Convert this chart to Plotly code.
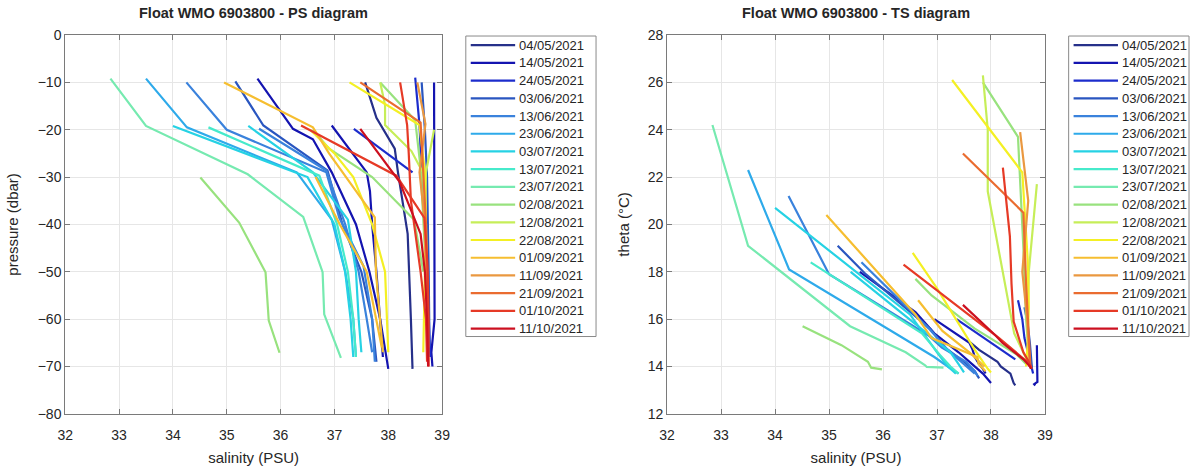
import plotly.graph_objects as go

# ---------------- data ----------------
DATES = ["04/05/2021", "14/05/2021", "24/05/2021", "03/06/2021", "13/06/2021",
         "23/06/2021", "03/07/2021", "13/07/2021", "23/07/2021", "02/08/2021",
         "12/08/2021", "22/08/2021", "01/09/2021", "11/09/2021", "21/09/2021",
         "01/10/2021", "11/10/2021"]

DATE_COLORS = ["#26308a", "#1414b0", "#1c2ccc", "#2a56c0", "#3a82dc", "#2eaaea",
               "#26d2e4", "#46eacb", "#76eab0", "#98e27e", "#c6ee58", "#f4f024",
               "#f6be30", "#ea9840", "#ea6c30", "#e63a26", "#cc1020"]

# each profile: date index, pressure (dbar), salinity (PSU), potential temperature (deg C)
PROF_DATE = [0, 1, 1, 1, 2, 2, 3, 3, 4, 4, 5, 6, 6, 7, 8, 9, 9, 9,
             10, 10, 11, 11, 12, 12, 13, 14, 15, 15, 16]

PROF_PRES = [
    [-10, -17.5, -24, -29, -42, -50, -60, -70.5],
    [-10, -20, -30, -40, -50, -60, -67, -70],
    [-9.2, -19.8, -22, -29, -40, -50, -60, -70.5],
    [-19.1, -29, -33, -40, -50, -60, -68],
    [-9, -19, -29, -40, -50, -60, -68],
    [-19.8, -29],
    [-9.8, -19.1, -28.6, -40, -50, -60, -69],
    [-10, -20, -30, -40, -50, -60, -66],
    [-10, -20, -29, -38.6, -48.8, -60, -69],
    [-19.8, -28.6, -40, -50, -60, -67],
    [-9.2, -19.5, -29, -39, -50, -60, -68],
    [-19.2, -30, -40, -50, -60, -68],
    [-19.2, -29, -39, -50, -60, -67],
    [-19.5, -29.7, -40, -50, -60, -68],
    [-9.2, -19.2, -29.4, -38.4, -50.1, -59, -68.2],
    [-30.1, -39.6, -50.1, -60.3, -67.1],
    [-10, -18, -28, -40, -50],
    [-20, -24, -30, -39, -50],
    [-10, -14.8, -19, -24.5, -29, -40, -50, -60],
    [-20, -29, -40, -50],
    [-10, -19, -29, -40, -50, -60, -67],
    [-20, -25, -30, -40, -50, -60, -67],
    [-10, -19.5, -25, -38.5, -50, -60, -67],
    [-30, -40, -50, -66],
    [-10, -18.8, -29, -38.6, -50, -60, -67],
    [-10, -18.5, -29, -40, -50, -60, -68],
    [-10, -19, -25, -35, -50, -60, -69],
    [-19.1, -29.7, -38.6, -48.8, -60, -70],
    [-19.8, -29, -31, -42, -50, -60, -70],
]

PROF_SAL = [
    [37.57, 37.78, 38.12, 38.18, 38.36, 38.39, 38.42, 38.45],
    [38.85, 38.85, 38.86, 38.86, 38.86, 38.86, 38.80, 38.82],
    [35.57, 36.23, 36.60, 36.95, 37.40, 37.65, 37.85, 38.00],
    [36.95, 37.60, 37.66, 37.70, 37.78, 37.85, 37.90],
    [38.50, 38.58, 38.62, 38.68, 38.72, 38.75, 38.78],
    [37.36, 38.45],
    [35.16, 35.68, 36.87, 37.15, 37.50, 37.70, 37.78],
    [38.62, 38.68, 38.72, 38.74, 38.75, 38.76, 38.76],
    [34.25, 35.00, 36.85, 37.09, 37.54, 37.70, 37.75],
    [35.60, 36.85, 37.20, 37.45, 37.60, 37.70],
    [33.50, 34.26, 36.30, 36.95, 37.20, 37.35, 37.40],
    [34.00, 36.50, 37.00, 37.20, 37.30, 37.35],
    [35.40, 36.60, 37.25, 37.40, 37.45, 37.50],
    [34.66, 36.72, 37.05, 37.25, 37.35, 37.40],
    [32.84, 33.50, 35.39, 36.42, 36.78, 36.81, 37.12],
    [34.51, 35.23, 35.72, 35.78, 35.98],
    [37.85, 38.50, 38.60, 38.65, 38.70],
    [36.60, 36.90, 37.70, 38.48, 38.65],
    [37.85, 37.94, 37.94, 38.43, 38.64, 38.70, 38.72, 38.72],
    [38.85, 38.70, 38.68, 38.70],
    [37.28, 38.58, 38.68, 38.70, 38.68, 38.66, 38.65],
    [36.55, 37.00, 37.35, 37.70, 37.94, 37.98, 38.00],
    [34.95, 36.60, 36.90, 37.75, 37.77, 37.85, 37.90],
    [36.65, 37.10, 37.60, 37.88],
    [38.54, 38.69, 38.58, 38.67, 38.70, 38.72, 38.72],
    [37.48, 38.60, 38.65, 38.70, 38.72, 38.73, 38.73],
    [38.22, 38.35, 38.38, 38.42, 38.60, 38.70, 38.72],
    [36.38, 38.15, 38.67, 38.73, 38.75, 38.75],
    [37.48, 38.09, 38.21, 38.60, 38.68, 38.72, 38.74],
]

PROF_THETA = [
    [15.1, 14.7, 14.2, 14.0, 13.7, 13.5, 13.3, 13.2],
    [14.9, 14.4, 14.0, 13.7, 13.5, 13.35, 13.25, 13.2],
    [18.0, 16.9, 16.3, 15.4, 14.6, 14.1, 13.7, 13.3],
    [16.0, 15.0, 14.7, 14.4, 14.1, 13.9, 13.7],
    [16.8, 16.0, 15.2, 14.6, 14.2, 13.9, 13.7],
    [16.0, 14.3],
    [19.1, 17.9, 15.6, 14.8, 14.2, 13.8, 13.5],
    [16.5, 15.8, 15.0, 14.5, 14.2, 14.0, 13.9],
    [21.2, 17.9, 15.3, 14.8, 14.2, 13.8, 13.6],
    [18.4, 15.6, 14.7, 14.2, 13.9, 13.7],
    [22.3, 18.1, 15.3, 14.4, 14.0, 13.8, 13.7],
    [20.7, 16.2, 14.6, 14.0, 13.8, 13.7],
    [18.0, 15.8, 14.6, 14.1, 13.9, 13.75],
    [18.4, 15.4, 14.5, 14.0, 13.8, 13.7],
    [24.2, 19.1, 15.7, 14.6, 14.05, 13.98, 13.95],
    [15.7, 14.9, 14.2, 13.95, 13.88],
    [26.0, 23.7, 19.0, 16.0, 14.5],
    [17.7, 17.0, 15.6, 14.5, 14.1],
    [26.3, 24.0, 21.4, 15.4, 14.4, 14.2, 14.1, 14.0],
    [21.7, 18.0, 15.5, 14.3],
    [26.1, 22.2, 18.5, 16.5, 15.0, 14.3, 14.0],
    [18.8, 17.3, 16.0, 14.7, 13.9, 13.8, 13.75],
    [20.4, 16.2, 15.2, 14.4, 14.1, 13.9, 13.8],
    [16.8, 15.5, 14.6, 14.0],
    [23.9, 21.0, 18.0, 16.0, 14.8, 14.3, 14.0],
    [23.0, 20.5, 17.5, 15.5, 14.6, 14.2, 14.0],
    [22.4, 19.5, 17.5, 15.9, 14.6, 14.2, 14.0],
    [18.3, 15.2, 14.2, 14.05, 13.95, 13.9],
    [16.6, 15.3, 15.0, 14.3, 14.1, 14.0, 13.9],
]

SAL_TICKS = [32, 33, 34, 35, 36, 37, 38, 39]
PRES_TICKS = [-80, -70, -60, -50, -40, -30, -20, -10, 0]
THETA_TICKS = [12, 14, 16, 18, 20, 22, 24, 26, 28]

# ---------------- figure ----------------
W, H = 1199, 474
FONT = "Liberation Sans, Arial, sans-serif"
TXT = "#262626"

fig = go.Figure()
for k, d in enumerate(PROF_DATE):
    col = DATE_COLORS[d]
    fig.add_trace(go.Scatter(
        x=PROF_SAL[k], y=PROF_PRES[k], mode="lines", name=DATES[d],
        line=dict(color=col, width=2.2), xaxis="x", yaxis="y",
        showlegend=False, hoverinfo="skip"))
    fig.add_trace(go.Scatter(
        x=PROF_SAL[k], y=PROF_THETA[k], mode="lines", name=DATES[d],
        line=dict(color=col, width=2.2), xaxis="x2", yaxis="y2",
        showlegend=False, hoverinfo="skip"))


def px_x(p):
    return p / W


def px_y(p):
    return 1 - p / H


axis_common = dict(
    showgrid=True, gridcolor="#e6e6e6", gridwidth=1,
    showline=True, linecolor="#7a7a7a", linewidth=1, mirror="ticks",
    ticks="inside", ticklen=5, tickcolor="#7a7a7a",
    zeroline=False, tickfont=dict(family=FONT, size=14, color=TXT),
    title_font=dict(family=FONT, size=15, color=TXT),
)

ydom = [px_y(420), px_y(28)]
fig.update_layout(
    width=W, height=H, margin=dict(l=0, r=0, t=0, b=0),
    paper_bgcolor="white", plot_bgcolor="white", showlegend=False,
    xaxis=dict(domain=[px_x(58), px_x(440)], range=[32, 39], tickvals=SAL_TICKS,
               ticklabelstandoff=8,
               title=dict(text="salinity (PSU)", standoff=10), anchor="y", **axis_common),
    yaxis=dict(domain=ydom, range=[-80, 0], tickvals=PRES_TICKS,
               title=dict(text="pressure (dbar)", standoff=15), anchor="x", **axis_common),
    xaxis2=dict(domain=[px_x(668), px_x(1051)], range=[32, 39], tickvals=SAL_TICKS,
                ticklabelstandoff=8,
                title=dict(text="salinity (PSU)", standoff=10), anchor="y2", **axis_common),
    yaxis2=dict(domain=ydom, range=[12, 28], tickvals=THETA_TICKS,
                title=dict(text="theta (°C)", standoff=14), anchor="x2", **axis_common),
)

annotations = [
    dict(text="<b>Float WMO 6903800 - PS diagram</b>", x=px_x(249), y=px_y(5),
         xref="paper", yref="paper", showarrow=False, xanchor="center", yanchor="middle",
         font=dict(family=FONT, size=14.5, color=TXT)),
    dict(text="<b>Float WMO 6903800 - TS diagram</b>", x=px_x(859), y=px_y(5),
         xref="paper", yref="paper", showarrow=False, xanchor="center", yanchor="middle",
         font=dict(family=FONT, size=14.5, color=TXT)),
]
shapes = []

# legend boxes (one per panel), drawn in paper coordinates
for (bx0, bx1) in [(464, 596), (1075, 1197)]:
    by0, by1 = 29, 340
    shapes.append(dict(type="rect", xref="paper", yref="paper",
                       x0=px_x(bx0), x1=px_x(bx1), y0=px_y(by1), y1=px_y(by0),
                       line=dict(color="#8a8a8a", width=1), fillcolor="white", layer="above"))
    first, step = 38.5, 18.33
    for i, lab in enumerate(DATES):
        yy = first + i * step
        shapes.append(dict(type="line", xref="paper", yref="paper",
                           x0=px_x(bx0 + 5), x1=px_x(bx0 + 50), y0=px_y(yy), y1=px_y(yy),
                           line=dict(color=DATE_COLORS[i], width=2.2), layer="above"))
        annotations.append(dict(text=lab, x=px_x(bx0 + 52), y=px_y(yy), xref="paper", yref="paper",
                                showarrow=False, xanchor="left", yanchor="middle",
                                font=dict(family=FONT, size=13, color=TXT)))

fig.update_layout(annotations=annotations, shapes=shapes)

fig.write_html("out.html")
